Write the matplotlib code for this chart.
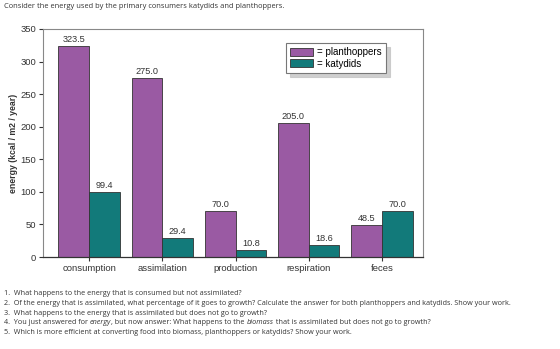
import matplotlib
matplotlib.use("Agg")
from matplotlib import pyplot as plt
import numpy as np

# data
categories = ["consumption", "assimilation", "production", "respiration", "feces"]
planthoppers = [323.5, 275.0, 70.0, 205.0, 48.5]
katydids = [99.4, 29.4, 10.8, 18.6, 70.0]
y_ticks = [0, 50, 100, 150, 200, 250, 300, 350]

header = "Consider the energy used by the primary consumers katydids and planthoppers."
questions = [
    [("1.  What happens to the energy that is consumed but not assimilated?", "normal")],
    [("2.  Of the energy that is assimilated, what percentage of it goes to growth? "
      "Calculate the answer for both planthoppers and katydids. Show your work.", "normal")],
    [("3.  What happens to the energy that is assimilated but does not go to growth?", "normal")],
    [("4.  You just answered for ", "normal"), ("energy", "italic"),
     (", but now answer: What happens to the ", "normal"), ("biomass", "italic"),
     (" that is assimilated but does not go to growth?", "normal")],
    [("5.  Which is more efficient at converting food into biomass, planthoppers or katydids? "
      "Show your work.", "normal")],
]

purple = "#9a5aa3"
teal = "#127a7a"
chart_font = "Liberation Sans"
page_font = "Open Sans"

fig = plt.figure(figsize=(5.6, 3.49), dpi=100)
fig.patch.set_facecolor("white")
ax = fig.add_axes([0.077, 0.2636, 0.678, 0.6534])

x = np.arange(len(categories))
w = 0.42
b1 = ax.bar(x - w / 2, planthoppers, w, color=purple, edgecolor="#333333", linewidth=0.6,
            label="= planthoppers")
b2 = ax.bar(x + w / 2, katydids, w, color=teal, edgecolor="#333333", linewidth=0.6,
            label="= katydids")

# value labels on top of each bar
for bars, vals in [(b1, planthoppers), (b2, katydids)]:
    for r, v in zip(bars, vals):
        ax.annotate("%.1f" % v, (r.get_x() + r.get_width() / 2, v), xytext=(0, 1.5),
                    textcoords="offset points", ha="center", va="bottom",
                    fontsize=6.6, color="#333333", family=chart_font)

ax.set_xlim(-0.63, 4.56)
ax.set_ylim(0, 350)
ax.set_yticks(y_ticks)
ax.set_xticks(x)
ax.set_xticklabels(categories)
ax.tick_params(axis="both", labelsize=6.8, length=3, width=0.8, color="#333333",
               labelcolor="#333333", pad=2)
for lab in ax.get_xticklabels() + ax.get_yticklabels():
    lab.set_family(chart_font)
for s in ["top", "right", "left"]:
    ax.spines[s].set_color("#888888")
    ax.spines[s].set_linewidth(0.8)
ax.spines["bottom"].set_color("#333333")
ax.spines["bottom"].set_linewidth(0.9)

ax.set_ylabel("energy (kcal / m2 / year)", fontsize=6.3, fontweight="bold", color="#333333",
              family=chart_font, labelpad=1.5)

leg = ax.legend(loc="upper right", bbox_to_anchor=(0.915, 0.96),
                prop={"family": chart_font, "size": 7}, fancybox=False,
                shadow={"color": "#c4c4c4", "alpha": 0.8, "ox": 3, "oy": -3},
                edgecolor="#777777", handlelength=2.3, handleheight=0.9, handletextpad=0.4,
                borderpad=0.45, labelspacing=0.15, framealpha=1)
leg.get_frame().set_linewidth(0.8)
for h in leg.legend_handles:
    h.set_edgecolor("#333333")
    h.set_linewidth(0.6)

fig.text(4 / 560, 1 - 7 / 349, header, fontsize=5.4, family=page_font, color="#333333",
         va="center", ha="left")

# questions under the chart, italic words placed right after the previous piece
line_y = [295, 305, 315, 324, 334]
for yy, parts in zip(line_y, questions):
    prev = None
    for txt, style in parts:
        if prev is None:
            prev = fig.text(4 / 560, 1 - yy / 349, txt, fontsize=5.25, family=page_font,
                            color="#333333", style=style, va="baseline", ha="left")
        else:
            prev = fig.add_artist(matplotlib.text.Annotation(
                txt, xy=(1, 0), xycoords=prev, va="bottom", ha="left",
                fontsize=5.25, family=page_font, color="#333333", style=style,
                annotation_clip=False))

fig.savefig("out.png", dpi=100)
